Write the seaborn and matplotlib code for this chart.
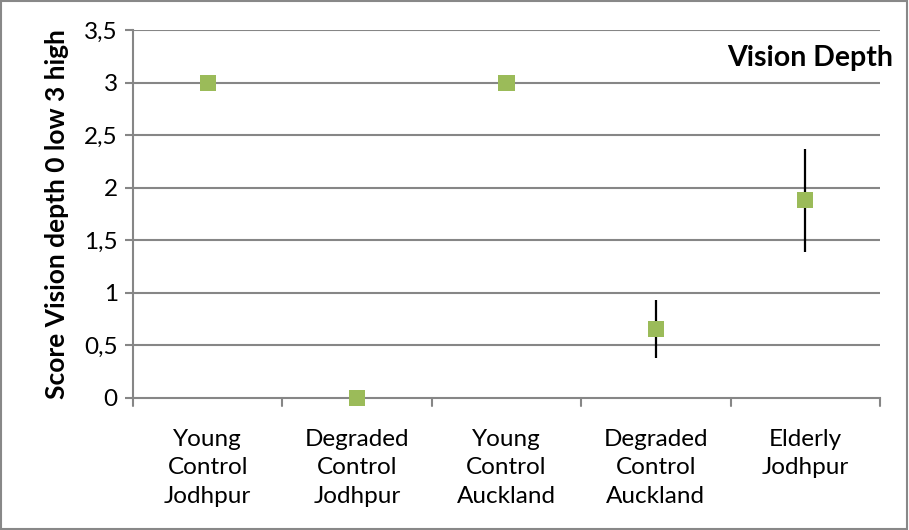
import matplotlib
matplotlib.use("Agg")
import matplotlib.pyplot as plt
import seaborn as sns
import pandas as pd
from matplotlib.patches import Rectangle
from matplotlib.ticker import FuncFormatter

categories = ["Young\nControl\nJodhpur", "Degraded\nControl\nJodhpur", "Young\nControl\nAuckland",
              "Degraded\nControl\nAuckland", "Elderly\nJodhpur"]
scores = [3.0, 0.0, 3.0, 0.655, 1.88]
errors = [0.0, 0.0, 0.0, 0.275, 0.49]
y_ticks = [0, 0.5, 1, 1.5, 2, 2.5, 3, 3.5]

sns.set_theme(style="white")
plt.rcParams["font.family"] = ["Lato", "DejaVu Sans"]
plt.rcParams["text.color"] = "black"
plt.rcParams["xtick.color"] = "black"
plt.rcParams["ytick.color"] = "black"
plt.rcParams["axes.labelcolor"] = "black"

df = pd.DataFrame({"group": categories, "score": scores, "err": errors})

fig = plt.figure(figsize=(9.09, 5.30), dpi=100)
ax = fig.add_axes([133 / 909, 1 - 398 / 530, (880 - 133) / 909, (398 - 30) / 530])

grid_c = "#868686"
for t in y_ticks[1:]:
    ax.axhline(t, color=grid_c, lw=1.5, zorder=0)

# error bars behind the markers
xs = list(range(len(categories)))
ax.errorbar(xs, df["score"], yerr=df["err"], fmt="none", ecolor="black",
            elinewidth=1.6, capsize=0, zorder=2)
sns.scatterplot(data=df, x="group", y="score", marker="s", s=135, color="#9BBB59",
                edgecolor="none", ax=ax, zorder=3, legend=False, clip_on=False)
ax.set_xlim(-0.5, 4.5)
ax.set_ylim(0, 3.5)

ax.set_yticks(y_ticks)
ax.yaxis.set_major_formatter(FuncFormatter(lambda v, p: f"{v:g}".replace(".", ",")))
ax.set_xticks(xs)
ax.set_xticklabels(categories, fontsize=17.5, linespacing=1.45)
ax.tick_params(axis="x", length=0, pad=22)
ax.tick_params(axis="y", labelsize=17.5, length=6, width=1.5, color=grid_c, left=True,
               pad=5, labelcolor="black")

# tick marks on category boundaries
for b in [-0.5, 0.5, 1.5, 2.5, 3.5, 4.5]:
    ax.plot([b, b], [0, -0.08], color=grid_c, lw=1.5, clip_on=False, zorder=1)

for side in ["top", "right"]:
    ax.spines[side].set_visible(False)
ax.spines["left"].set_color(grid_c)
ax.spines["left"].set_linewidth(1.5)
ax.spines["bottom"].set_color(grid_c)
ax.spines["bottom"].set_linewidth(1.5)
ax.spines["bottom"].set_zorder(1)

ax.set_xlabel("")
ax.set_ylabel("Score Vision depth 0 low 3 high", fontsize=19, fontweight="bold")
ax.yaxis.set_label_coords(-64 / 747, 0.5)

fig.text(893 / 909, 1 - 58 / 530, "Vision Depth", ha="right", va="center",
         fontsize=20.5, fontweight="bold")

fig.patches.append(Rectangle((0.001, 0.002), 0.997, 0.996, transform=fig.transFigure,
                             fill=False, edgecolor="#888888", lw=1.5))

fig.savefig("out.png", dpi=100)
